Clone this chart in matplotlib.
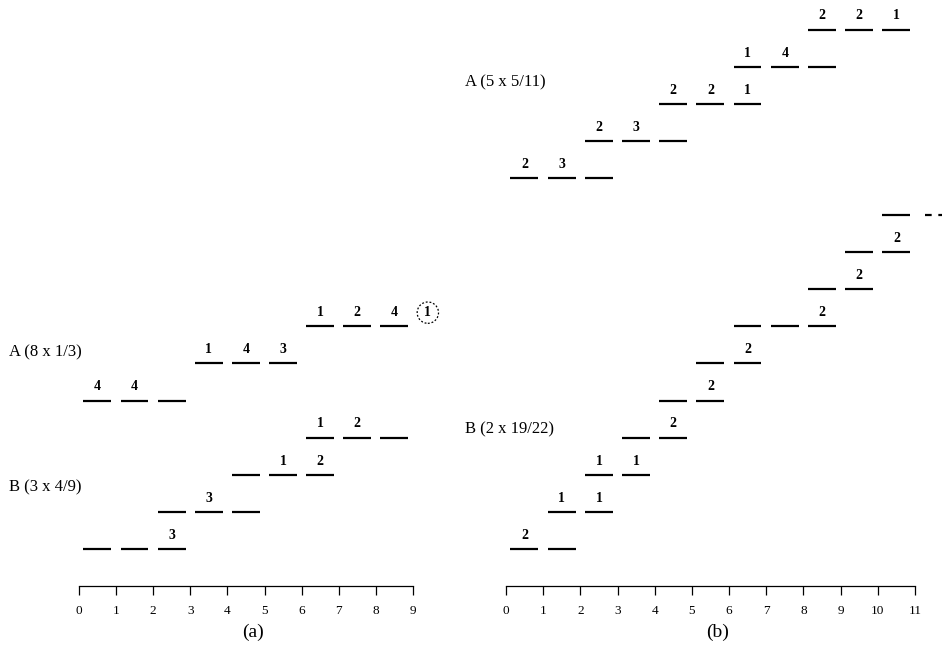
import matplotlib
matplotlib.use("Agg")
import matplotlib.pyplot as plt

plt.rcParams['font.family'] = ['Liberation Serif', 'DejaVu Serif']

# panel (a): A (8 x 1/3) and B (3 x 4/9)
a_A_start = [0, 3, 6]
a_A_level = [5, 6, 7]
a_A_labels = [["4", "4", ""], ["1", "4", "3"], ["1", "2", "4"]]

a_B_start = [0, 2, 4, 6]
a_B_level = [1, 2, 3, 4]
a_B_labels = [["", "", "3"], ["", "3", ""], ["", "1", "2"], ["1", "2", ""]]

# panel (b): A (5 x 5/11) and B (2 x 19/22)
b_A_start = [0, 2, 4, 6, 8]
b_A_level = [11, 12, 13, 14, 15]
b_A_labels = [["2", "3", ""], ["2", "3", ""], ["2", "2", "1"], ["1", "4", ""], ["2", "2", "1"]]

b_B_start = [0, 1, 2, 3, 4, 5, 6, 8, 9, 10]
b_B_level = [1, 2, 3, 4, 5, 6, 7, 8, 9, 10]
b_B_labels = [["2", ""], ["1", "1"], ["1", "1"], ["", "2"], ["", "2"],
              ["", "2"], ["", "", "2"], ["", "2"], ["", "2"], [""]]

a_ticks = list(range(10))
b_ticks = list(range(12))

W, H = 942, 647
fig = plt.figure(figsize=(W / 100, H / 100), dpi=100)

ymax = 15.8
ax_a = fig.add_axes([79 / W, 61 / H, 334 / W, 586 / H])
ax_b = fig.add_axes([506 / W, 61 / H, 409 / W, 586 / H])


def draw_rows(ax, starts, levels, labels):
    for s, lv, labs in zip(starts, levels, labels):
        for k, lab in enumerate(labs):
            x = s + k
            ax.plot([x + 0.12, x + 0.87], [lv, lv], color="black", lw=1.6,
                    solid_capstyle="butt", clip_on=False)
            if lab:
                ax.text(x + 0.5, lv + 0.37, lab, ha="center", va="center",
                        fontsize=10, fontweight="bold")


def setup(ax, ticks):
    ax.set_xlim(ticks[0], ticks[-1])
    ax.set_ylim(0, ymax)
    for sp in ["left", "right", "top"]:
        ax.spines[sp].set_visible(False)
    ax.spines["bottom"].set_linewidth(0.9)
    ax.set_yticks([])
    ax.set_xticks(ticks)
    ax.tick_params(axis="x", direction="out", length=6.5, width=0.9,
                   pad=7.5, labelsize=9.5)
    ax.patch.set_visible(False)


setup(ax_a, a_ticks)
draw_rows(ax_a, a_A_start, a_A_level, a_A_labels)
draw_rows(ax_a, a_B_start, a_B_level, a_B_labels)
ax_a.text(9.4, 7.37, "1", ha="center", va="center", fontsize=10,
          fontweight="bold", clip_on=False,
          bbox=dict(boxstyle="circle,pad=0.3", fc="none", ec="black",
                    ls=(0, (1.5, 1.5)), lw=0.9))
ax_a.text(-1.88, 6.31, "A (8 x 1/3)", ha="left", va="center", fontsize=12)
ax_a.text(-1.88, 2.67, "B (3 x 4/9)", ha="left", va="center", fontsize=12)
ax_a.text(4.69, -1.24, "(a)", ha="center", va="center", fontsize=14,
          clip_on=False)

setup(ax_b, b_ticks)
draw_rows(ax_b, b_A_start, b_A_level, b_A_labels)
draw_rows(ax_b, b_B_start, b_B_level, b_B_labels)
ax_b.plot([11.26, 11.9], [10, 10], color="black", lw=1.6,
          ls=(0, (3, 3)), clip_on=False)
ax_b.text(-1.10, 13.57, "A (5 x 5/11)", ha="left", va="center", fontsize=12)
ax_b.text(-1.10, 4.23, "B (2 x 19/22)", ha="left", va="center", fontsize=12)
ax_b.text(5.70, -1.24, "(b)", ha="center", va="center", fontsize=14,
          clip_on=False)

fig.savefig("out.png", dpi=100)
